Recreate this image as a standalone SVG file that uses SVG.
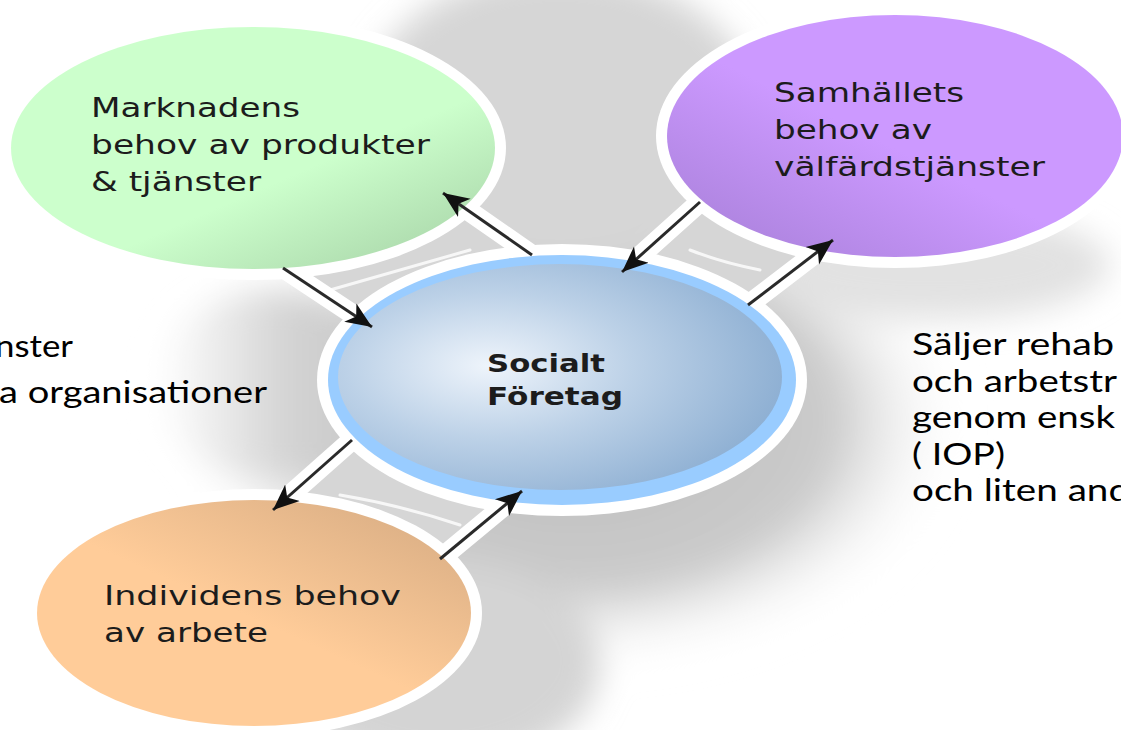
<svg xmlns="http://www.w3.org/2000/svg" width="1121" height="730" viewBox="0 0 1121 730">
<defs>
<style>
.nt{font-family:"DejaVu Sans",Verdana,sans-serif;font-size:26px;fill:#1c1c1c}
.ct{font-family:"DejaVu Sans",Verdana,sans-serif;font-size:24px;font-weight:bold;fill:#1c1c1c}
.st{font-family:Lato,"Liberation Sans",sans-serif;font-size:31px;fill:#000}
.halo{fill:#fff}
.bridge{fill:#d6d6d6;stroke:#fff;stroke-width:20;stroke-linejoin:round}
.hl{fill:none;stroke:#fff;stroke-width:3;stroke-linecap:round;opacity:0.8}
.arr{stroke:#2a2a2a;stroke-width:3;fill:none;marker-end:url(#ah)}
</style>
<marker id="ah" markerWidth="28" markerHeight="24" refX="26" refY="12" orient="auto" markerUnits="userSpaceOnUse">
<path d="M0,1 L26,12 L0,23 L7,12 z" fill="#111"/>
</marker>
<filter id="blur" x="-50%" y="-50%" width="200%" height="200%"><feGaussianBlur stdDeviation="16"/></filter>
<radialGradient id="shadowG" cx="0.5" cy="0.5" r="0.5">
<stop offset="0" stop-color="#bcbcbc"/><stop offset="0.65" stop-color="#cbcbcb"/><stop offset="1" stop-color="#fff" stop-opacity="0"/>
</radialGradient>
<linearGradient id="lobeG" x1="0" y1="0" x2="1" y2="0">
<stop offset="0" stop-color="#fff"/><stop offset="0.6" stop-color="#d2d2d2"/><stop offset="1" stop-color="#c8c8c8"/>
</linearGradient>
<linearGradient id="gGreen" x1="0.3" y1="0.2" x2="0.95" y2="0.95">
<stop offset="0.5" stop-color="#ccffcc"/><stop offset="1" stop-color="#a8d4a8"/>
</linearGradient>
<linearGradient id="gPurple" x1="0.8" y1="0.2" x2="0.1" y2="0.95">
<stop offset="0.45" stop-color="#cc99ff"/><stop offset="1" stop-color="#ab82dc"/>
</linearGradient>
<linearGradient id="gOrange" x1="0.2" y1="0.9" x2="0.9" y2="0.1">
<stop offset="0.45" stop-color="#ffcc99"/><stop offset="1" stop-color="#dcb086"/>
</linearGradient>
<radialGradient id="gBlue" cx="0.34" cy="0.45" r="0.72">
<stop offset="0" stop-color="#eef4fb"/><stop offset="0.45" stop-color="#bcd1e7"/><stop offset="1" stop-color="#88abd0"/>
</radialGradient>
</defs>
<rect width="1121" height="730" fill="#fff"/>
<g id="shadow" filter="url(#blur)">
<ellipse cx="575" cy="420" rx="395" ry="255" fill="url(#shadowG)"/>
<ellipse cx="270" cy="385" rx="110" ry="95" fill="url(#lobeG)"/>
<ellipse cx="560" cy="120" rx="200" ry="150" fill="#d6d6d6"/>
<ellipse cx="440" cy="665" rx="160" ry="105" fill="#d4d4d4"/>
<ellipse cx="940" cy="265" rx="170" ry="55" fill="#e2e2e2"/>
</g>
<g id="bridges">
<polygon class="bridge" points="283,268 443,193 532,255 372,327"/>
<polygon class="bridge" points="700,202 833,240 748,305 622,272"/>
<polygon class="bridge" points="352,440 522,491 440,559 273,510"/>
<path class="hl" d="M330,290 Q400,270 470,250"/>
<path class="hl" d="M690,250 Q720,262 760,270"/>
<path class="hl" d="M340,495 Q400,505 460,525"/>
</g>
<g id="halos">
<ellipse class="halo" cx="253" cy="148" rx="253" ry="132"/>
<ellipse class="halo" cx="895" cy="136" rx="239" ry="132"/>
<ellipse class="halo" cx="562" cy="380" rx="245" ry="136"/>
<ellipse class="halo" cx="254" cy="613" rx="228" ry="124"/>
</g>
<g id="node-market">
<ellipse cx="253" cy="148" rx="242" ry="121" fill="url(#gGreen)"/>
<text class="nt"><tspan x="91" y="117" textLength="209" lengthAdjust="spacingAndGlyphs">Marknadens</tspan><tspan x="91" y="154" textLength="339" lengthAdjust="spacingAndGlyphs">behov av produkter</tspan><tspan x="91" y="191" textLength="170" lengthAdjust="spacingAndGlyphs">&amp; tjänster</tspan></text>
</g>
<g id="node-society">
<ellipse cx="895" cy="136" rx="228" ry="121" fill="url(#gPurple)"/>
<text class="nt"><tspan x="774" y="102" textLength="190" lengthAdjust="spacingAndGlyphs">Samhällets</tspan><tspan x="774" y="139" textLength="158" lengthAdjust="spacingAndGlyphs">behov av</tspan><tspan x="774" y="176" textLength="271" lengthAdjust="spacingAndGlyphs">välfärdstjänster</tspan></text>
</g>
<g id="node-center">
<ellipse cx="562" cy="380" rx="234" ry="125" fill="#99ccff"/>
<ellipse cx="560" cy="377" rx="222" ry="113" fill="url(#gBlue)"/>
<text class="ct"><tspan x="487" y="372" textLength="118" lengthAdjust="spacingAndGlyphs">Socialt</tspan><tspan x="487" y="405" textLength="136" lengthAdjust="spacingAndGlyphs">Företag</tspan></text>
</g>
<g id="node-individual">
<ellipse cx="254" cy="613" rx="217" ry="113" fill="url(#gOrange)"/>
<text class="nt"><tspan x="104" y="605" textLength="297" lengthAdjust="spacingAndGlyphs">Individens behov</tspan><tspan x="104" y="642" textLength="164" lengthAdjust="spacingAndGlyphs">av arbete</tspan></text>
</g>
<g id="connectors">
<line class="arr" x1="283" y1="268" x2="372" y2="327"/>
<line class="arr" x1="532" y1="255" x2="443" y2="193"/>
<line class="arr" x1="700" y1="202" x2="622" y2="272"/>
<line class="arr" x1="748" y1="305" x2="833" y2="240"/>
<line class="arr" x1="352" y1="440" x2="273" y2="510"/>
<line class="arr" x1="440" y1="559" x2="522" y2="491"/>
</g>
<g id="left-text">
<text class="st"><tspan x="-5" y="357" textLength="78" lengthAdjust="spacingAndGlyphs">nster</tspan><tspan x="-1" y="403" textLength="268" lengthAdjust="spacingAndGlyphs">a organisationer</tspan></text>
</g>
<g id="right-text">
<text class="st"><tspan x="912" y="355" textLength="202" lengthAdjust="spacingAndGlyphs">Säljer rehab</tspan><tspan x="912" y="392" textLength="205" lengthAdjust="spacingAndGlyphs">och arbetstr</tspan><tspan x="912" y="428" textLength="203" lengthAdjust="spacingAndGlyphs">genom ensk</tspan><tspan x="912" y="465" textLength="93" lengthAdjust="spacingAndGlyphs">( IOP)</tspan><tspan x="912" y="501" textLength="218" lengthAdjust="spacingAndGlyphs">och liten and</tspan></text>
</g>
</svg>
